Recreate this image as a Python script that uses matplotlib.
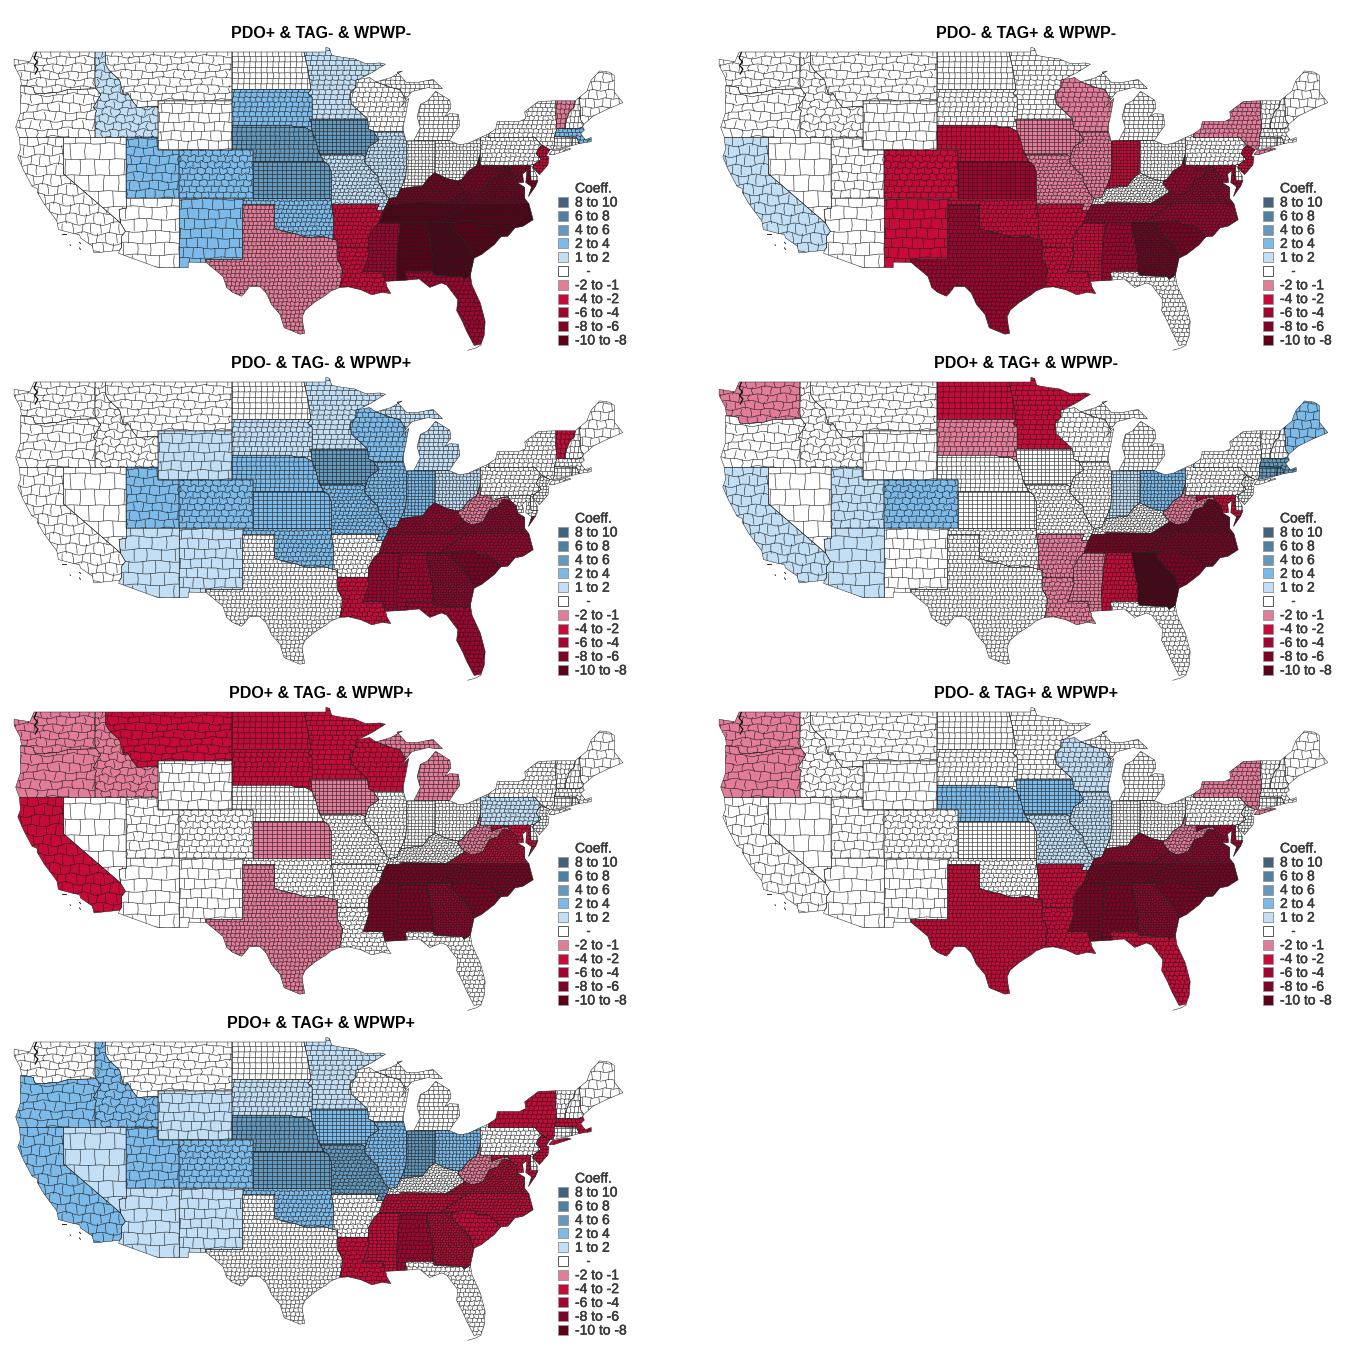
import numpy as np
import matplotlib
matplotlib.use("Agg")
import matplotlib.pyplot as plt
import matplotlib.patheffects as pe
from matplotlib.collections import LineCollection
from matplotlib.patches import PathPatch, Rectangle
from matplotlib.path import Path

plt.rcParams['font.family'] = ['Liberation Sans', 'DejaVu Sans']

W, H = 1349, 1355

# state outlines, lon/lat
states = {
    'WA': [[(-124.7,48.4),(-123.2,48.2),(-122.8,49),(-117.03,49),(-117.04,46.4),(-116.92,45.99),(-119,45.93),(-119.6,45.92),(-120.5,45.7),(-121.2,45.65),(-122.2,45.58),(-122.75,45.65),(-122.9,46.1),(-123.4,46.2),(-124,46.27),(-124.1,46.9),(-124.7,47.9)]],
    'OR': [[(-124,46.27),(-123.4,46.2),(-122.9,46.1),(-122.75,45.65),(-122.2,45.58),(-121.2,45.65),(-120.5,45.7),(-119.6,45.92),(-119,45.93),(-116.92,45.99),(-116.5,45.5),(-117.2,44.45),(-116.9,44.2),(-117.03,43.8),(-117.03,42),(-124.2,42),(-124.55,42.84),(-124.1,44),(-124.1,46.25)]],
    'ID': [[(-117.03,49),(-116.05,49),(-116.05,48),(-115.7,47.5),(-114.7,46.7),(-114.35,45.5),(-113.9,45.6),(-113.45,44.95),(-113,44.45),(-111.5,44.55),(-111.05,44.48),(-111.05,42),(-117.03,42),(-117.03,43.8),(-116.9,44.2),(-117.2,44.45),(-116.5,45.5),(-116.92,45.99),(-117.04,46.4)]],
    'MT': [[(-116.05,49),(-104.05,49),(-104.05,45),(-111.05,45),(-111.05,44.48),(-111.5,44.55),(-113,44.45),(-113.45,44.95),(-113.9,45.6),(-114.35,45.5),(-114.7,46.7),(-115.7,47.5),(-116.05,48)]],
    'WY': [[(-111.05,45),(-104.05,45),(-104.05,41),(-111.05,41)]],
    'ND': [[(-104.05,49),(-97.23,49),(-96.85,47.6),(-96.56,45.94),(-104.05,45.94)]],
    'SD': [[(-104.05,45.94),(-96.56,45.94),(-96.85,45.6),(-96.45,45.3),(-96.45,43.5),(-96.6,43.5),(-96.45,42.5),(-97.2,42.85),(-97.9,42.8),(-98.5,43),(-104.05,43)]],
    'NE': [[(-104.05,43),(-98.5,43),(-97.9,42.8),(-97.2,42.85),(-96.45,42.5),(-96.1,41.7),(-95.9,41),(-95.3,40),(-102.05,40),(-102.05,41),(-104.05,41)]],
    'KS': [[(-102.05,40),(-95.3,40),(-94.9,39.75),(-94.6,39.1),(-94.62,37),(-102.05,37)]],
    'MN': [[(-97.23,49),(-95.15,49),(-95.15,49.38),(-94.8,49.3),(-94.6,48.72),(-93.5,48.55),(-92.5,48.45),(-91.4,48.05),(-90,48.1),(-89.5,48),(-90.8,47.3),(-92.05,46.75),(-92.3,46.7),(-92.3,46.1),(-92.85,45.6),(-92.75,44.75),(-91.2,43.5),(-96.45,43.5),(-96.45,45.3),(-96.85,45.6),(-96.56,45.94),(-96.85,47.6)]],
    'IA': [[(-96.6,43.5),(-91.2,43.5),(-91.1,42.7),(-90.65,42.5),(-90.15,41.8),(-91.1,41.2),(-91.4,40.4),(-91.75,40.6),(-95.75,40.6),(-95.9,41),(-96.1,41.7),(-96.45,42.5)]],
    'MO': [[(-95.75,40.6),(-91.75,40.6),(-91.4,40.4),(-91.5,40),(-90.75,39.25),(-90.2,38.8),(-90.2,38.4),(-89.5,37.3),(-89.15,37),(-89.4,36.5),(-89.7,36),(-90.37,36),(-90.1,36.5),(-94.62,36.5),(-94.62,37),(-94.6,39.1),(-94.9,39.75),(-95.3,40)]],
    'OK': [[(-103,37),(-94.62,37),(-94.62,36.5),(-94.43,35.4),(-94.48,33.65),(-95.5,33.9),(-96.5,33.8),(-97.2,33.85),(-98,34.1),(-99.2,34.3),(-100,34.56),(-100,36.5),(-103,36.5)]],
    'TX': [[(-103.05,36.5),(-100,36.5),(-100,34.56),(-99.2,34.3),(-98,34.1),(-97.2,33.85),(-96.5,33.8),(-95.5,33.9),(-94.48,33.65),(-94.04,33.55),(-94.04,31.99),(-93.55,31.2),(-93.7,30.3),(-93.85,29.7),(-94.7,29.4),(-95.1,29.1),(-96.2,28.5),(-97.1,27.85),(-97.4,27.3),(-97.3,26.6),(-97.15,25.95),(-97.6,25.87),(-99.1,26.4),(-99.5,27.5),(-100.3,28.3),(-100.8,29.25),(-101.4,29.77),(-102.4,29.77),(-102.8,29.3),(-103.15,28.98),(-104,29.3),(-104.55,29.7),(-104.9,30.6),(-106.5,31.75),(-106.6,32),(-103.06,32)]],
    'NM': [[(-109.05,37),(-103,37),(-103,36.5),(-103.05,36.5),(-103.06,32),(-106.6,32),(-106.5,31.75),(-108.2,31.78),(-108.2,31.33),(-109.05,31.33)]],
    'AZ': [[(-114.05,37),(-109.05,37),(-109.05,31.33),(-111.07,31.33),(-114.8,32.5),(-114.7,32.75),(-114.5,33),(-114.5,33.9),(-114.15,34.3),(-114.63,35),(-114.75,36.1),(-114.05,36.2)]],
    'NV': [[(-120,42),(-114.05,42),(-114.05,36.2),(-114.75,36.1),(-114.63,35),(-120,39)]],
    'UT': [[(-114.05,42),(-111.05,42),(-111.05,41),(-109.05,41),(-109.05,37),(-114.05,37)]],
    'CO': [[(-109.05,41),(-102.05,41),(-102.05,37),(-109.05,37)]],
    'CA': [[(-124.2,42),(-120,42),(-120,39),(-114.63,35),(-114.15,34.3),(-114.5,33.9),(-114.5,33),(-114.7,32.75),(-117.12,32.53),(-117.3,33.1),(-118.4,33.75),(-118.5,34.03),(-119.2,34.15),(-120.5,34.45),(-120.65,35.15),(-121.9,36.6),(-122.5,37.5),(-122.5,37.8),(-123,38),(-123.8,39.3),(-124.35,40.4),(-124.1,41)]],
    'WI': [[(-92.3,46.7),(-92.05,46.75),(-91,46.9),(-90.4,46.55),(-89,46.1),(-88.1,45.9),(-87.6,45.1),(-88,44.55),(-87.3,45.2),(-87.55,44),(-87.8,43),(-87.8,42.5),(-90.65,42.5),(-91.1,42.7),(-91.2,43.5),(-92.75,44.75),(-92.85,45.6),(-92.3,46.1)]],
    'IL': [[(-90.65,42.5),(-87.8,42.5),(-87.53,41.7),(-87.53,39.35),(-87.6,38.7),(-88.05,37.8),(-88.45,37.1),(-89.15,37),(-89.5,37.3),(-90.2,38.4),(-90.2,38.8),(-90.75,39.25),(-91.5,40),(-91.4,40.4),(-91.1,41.2),(-90.15,41.8)]],
    'IN': [[(-87.53,41.7),(-87.2,41.75),(-86.8,41.76),(-84.8,41.76),(-84.82,39.1),(-85.4,38.7),(-86,38),(-86.8,37.95),(-88.05,37.8),(-87.6,38.7),(-87.53,39.35)]],
    'MI': [[(-86.8,41.76),(-84.8,41.76),(-83.45,41.73),(-83.1,42.2),(-82.45,43),(-82.6,43.9),(-83.4,43.95),(-83.9,43.7),(-83.3,44.4),(-83.4,45.05),(-84.75,45.78),(-85.5,45),(-86.2,44.7),(-86.5,43.7),(-86.2,42.8)],
           [(-90.4,46.55),(-89,46.1),(-88.1,45.9),(-87.6,45.1),(-87,45.75),(-85.5,46.08),(-84.7,46),(-84.1,46),(-85,46.75),(-86.5,46.5),(-87.5,46.5),(-88.4,47.35),(-87.9,47.45),(-89,46.9)]],
    'OH': [[(-84.8,41.76),(-83.45,41.73),(-82.5,41.4),(-81.7,41.5),(-80.52,41.98),(-80.52,40.64),(-80.85,39.7),(-81.7,39.2),(-82.2,38.6),(-82.6,38.42),(-83.7,38.63),(-84.82,39.1)]],
    'KY': [[(-89.4,36.5),(-88.05,36.5),(-88.05,36.65),(-83.68,36.6),(-81.97,37.54),(-82.6,38.17),(-82.6,38.42),(-83.7,38.63),(-84.82,39.1),(-85.4,38.7),(-86,38),(-86.8,37.95),(-88.05,37.8),(-88.45,37.1),(-89.15,37)]],
    'TN': [[(-90.1,35),(-84.32,35),(-83.1,35.75),(-81.68,36.59),(-83.68,36.6),(-88.05,36.65),(-88.05,36.5),(-89.4,36.5),(-89.7,36)]],
    'AR': [[(-94.62,36.5),(-90.1,36.5),(-90.37,36),(-89.7,36),(-90.1,35),(-90.6,34.6),(-91.1,33.8),(-91.15,33),(-94.04,33),(-94.04,33.55),(-94.48,33.65),(-94.43,35.4)]],
    'LA': [[(-94.04,33),(-91.15,33),(-91.05,32.5),(-91.6,31),(-89.75,31),(-89.55,30.2),(-89.4,30),(-89.4,29.8),(-89,29.2),(-89.8,29.3),(-90.8,29.1),(-91.8,29.5),(-93,29.75),(-93.85,29.7),(-93.7,30.3),(-93.55,31.2),(-94.04,31.99)]],
    'MS': [[(-91.15,33),(-91.1,33.8),(-90.6,34.6),(-90.1,35),(-88.2,35),(-88.1,34.9),(-88.47,31.9),(-88.4,30.25),(-89.55,30.2),(-89.75,31),(-91.6,31),(-91.05,32.5)]],
    'AL': [[(-88.2,35),(-85.6,35),(-85.18,32.87),(-85,32.3),(-85,31),(-87.6,31),(-87.5,30.3),(-88.4,30.25),(-88.47,31.9),(-88.1,34.9)]],
    'GA': [[(-85.6,35),(-83.1,35),(-83.35,34.7),(-81.9,33.4),(-81.5,33),(-81.1,32.1),(-81.45,30.72),(-82.05,30.36),(-82.2,30.57),(-84.86,30.7),(-85,31),(-85,32.3),(-85.18,32.87)]],
    'FL': [[(-87.6,31),(-85,31),(-84.86,30.7),(-82.2,30.57),(-82.05,30.36),(-81.45,30.72),(-81.3,29.9),(-80.5,28.4),(-80.05,26.9),(-80.15,25.75),(-80.45,25.05),(-81.1,24.95),(-81.8,26.1),(-82.2,26.9),(-82.75,27.8),(-82.65,28.7),(-83.7,29.9),(-84.2,30.07),(-85.3,29.7),(-86.3,30.4),(-87.5,30.3)]],
    'SC': [[(-83.35,34.7),(-83.1,35),(-82.3,35.2),(-81,35.15),(-80.8,34.82),(-79.67,34.8),(-78.55,33.86),(-79.2,33.2),(-80.4,32.4),(-81.1,32.1),(-81.5,33),(-81.9,33.4)]],
    'NC': [[(-84.32,35),(-83.1,35),(-82.3,35.2),(-81,35.15),(-80.8,34.82),(-79.67,34.8),(-78.55,33.86),(-77.9,33.9),(-77.2,34.6),(-76.5,34.7),(-75.5,35.25),(-75.9,36.55),(-81.68,36.59),(-83.1,35.75)]],
    'VA': [[(-83.68,36.6),(-81.68,36.59),(-75.9,36.55),(-76.3,37),(-76.3,37.9),(-77,38.3),(-77.1,38.85),(-77.7,39.3),(-78.35,39.4),(-78.85,38.75),(-79.65,38.55),(-80.3,37.5),(-81.3,37.3),(-81.97,37.54)],
           [(-75.95,37.15),(-75.65,37.95),(-75.25,38.03)]],
    'WV': [[(-81.97,37.54),(-81.3,37.3),(-80.3,37.5),(-79.65,38.55),(-78.85,38.75),(-78.35,39.4),(-77.7,39.3),(-77.85,39.6),(-78.45,39.55),(-79.48,39.2),(-79.48,39.72),(-80.52,39.72),(-80.52,40.64),(-80.85,39.7),(-81.7,39.2),(-82.2,38.6),(-82.6,38.42),(-82.6,38.17)]],
    'MD': [[(-79.48,39.72),(-75.79,39.72),(-75.7,38.46),(-75.05,38.45),(-75.25,38.03),(-75.65,37.95),(-76.2,38.3),(-76.1,39.3),(-76.5,39),(-76.4,38.3),(-77,38.3),(-77.1,38.85),(-77.7,39.3),(-77.85,39.6),(-78.45,39.55),(-79.48,39.2)]],
    'DE': [[(-75.79,39.72),(-75.4,39.8),(-75.55,39.5),(-75.1,38.8),(-75.05,38.45),(-75.7,38.46)]],
    'PA': [[(-80.52,41.98),(-79.76,42.27),(-79.76,42),(-75.35,42),(-74.7,41.36),(-75.1,40.95),(-75.2,40.65),(-74.75,40.2),(-75.4,39.8),(-75.79,39.72),(-80.52,39.72)]],
    'NJ': [[(-74.7,41.36),(-73.9,41),(-74.25,40.5),(-74,40.4),(-74.1,39.75),(-74.9,38.95),(-75.55,39.5),(-75.4,39.8),(-74.75,40.2),(-75.2,40.65),(-75.1,40.95)]],
    'NY': [[(-79.76,42.27),(-79.05,42.7),(-78.9,43.3),(-76.8,43.3),(-76.2,43.55),(-76.3,44.1),(-75,44.95),(-73.35,45),(-73.35,43.6),(-73.25,42.75),(-73.5,42.05),(-73.5,41.3),(-73.65,41),(-73.9,41),(-74.7,41.36),(-75.35,42),(-79.76,42)],
           [(-74,40.6),(-73.7,40.9),(-72.3,41.15),(-71.9,41.05),(-73.5,40.6)]],
    'CT': [[(-73.5,42.05),(-71.8,42.02),(-71.85,41.32),(-73.65,41),(-73.5,41.3)]],
    'RI': [[(-71.8,42.02),(-71.38,42.02),(-71.15,41.5),(-71.85,41.32)]],
    'MA': [[(-73.5,42.05),(-73.25,42.75),(-71.3,42.7),(-70.8,42.87),(-70.65,42.6),(-71,42.3),(-70.55,41.8),(-70,42),(-70,41.65),(-71.15,41.5),(-71.38,42.02),(-71.8,42.02)]],
    'VT': [[(-73.35,45),(-71.5,45),(-71.6,44.5),(-72.05,44.1),(-72.4,43.3),(-72.46,42.73),(-73.25,42.75),(-73.35,43.6)]],
    'NH': [[(-71.5,45),(-71.1,45.3),(-70.98,43.4),(-70.7,43.07),(-70.8,42.87),(-71.3,42.7),(-72.46,42.73),(-72.4,43.3),(-72.05,44.1),(-71.6,44.5)]],
    'ME': [[(-71.1,45.3),(-70.4,45.8),(-70.25,46.2),(-70,46.7),(-69.2,47.45),(-68.3,47.35),(-67.8,47.07),(-67.8,45.7),(-67,44.85),(-68.5,44.3),(-69.8,43.75),(-70.7,43.07),(-70.98,43.4)]],
}

# rough county size per state: dx, dy, wobble
county_size = {
    'WA':(.9,.6,.1),'OR':(1,.7,.12),'CA':(.9,.8,.12),'NV':(1.4,1.3,.06),'ID':(.8,.6,.12),'MT':(1,.6,.1),
    'WY':(.95,.75,.05),'UT':(.9,.7,.08),'CO':(.7,.5,.08),'AZ':(1.3,1,.08),'NM':(1,.8,.06),'ND':(.55,.45,.01),
    'SD':(.55,.4,.03),'NE':(.45,.35,.01),'KS':(.45,.33,.0),'OK':(.45,.35,.05),'TX':(.4,.33,.03),'MN':(.6,.4,.03),
    'IA':(.4,.3,0),'MO':(.42,.3,.05),'AR':(.45,.35,.05),'LA':(.5,.35,.06),'WI':(.55,.4,.04),'IL':(.4,.3,.03),
    'IN':(.33,.26,.01),'MI':(.45,.33,.02),'OH':(.33,.28,.02),'KY':(.3,.22,.05),'TN':(.33,.25,.05),'MS':(.4,.28,.02),
    'AL':(.4,.35,.04),'GA':(.25,.2,.04),'FL':(.45,.35,.05),'SC':(.42,.35,.05),'NC':(.33,.25,.05),'VA':(.25,.2,.05),
    'WV':(.35,.28,.06),'MD':(.35,.3,.04),'DE':(.3,.4,0),'PA':(.45,.33,.04),'NJ':(.3,.25,.03),'NY':(.45,.35,.04),
    'CT':(.4,.3,.01),'RI':(.3,.3,0),'MA':(.4,.3,.03),'VT':(.4,.4,.03),'NH':(.4,.5,.03),'ME':(.8,.7,.06),
}

legend_labels = ['8 to 10','6 to 8','4 to 6','2 to 4','1 to 2','-','-2 to -1','-4 to -2','-6 to -4','-8 to -6','-10 to -8']
legend_colors = ['#43627e','#4f7fa3','#6499bd','#7cbaea','#c2dff5','#ffffff','#e37c98','#c70a38','#a00530','#7d0424','#5c0218']

titles = ['PDO+ & TAG- & WPWP-','PDO- & TAG+ & WPWP-','PDO- & TAG- & WPWP+','PDO+ & TAG+ & WPWP-',
          'PDO+ & TAG- & WPWP+','PDO- & TAG+ & WPWP+','PDO+ & TAG+ & WPWP+']

# legend label per state, anything missing is '-'
panel1 = {'MN':'1 to 2','ID':'1 to 2','MO':'1 to 2','IL':'1 to 2','SD':'2 to 4','OK':'2 to 4','CO':'2 to 4','UT':'2 to 4','NM':'2 to 4','MA':'2 to 4',
          'NE':'4 to 6','KS':'4 to 6','IA':'4 to 6','TX':'-2 to -1','VT':'-2 to -1','AR':'-4 to -2','LA':'-4 to -2','NJ':'-4 to -2',
          'MS':'-6 to -4','FL':'-6 to -4','KY':'-8 to -6','WV':'-8 to -6','VA':'-8 to -6','MD':'-8 to -6',
          'TN':'-10 to -8','AL':'-10 to -8','GA':'-10 to -8','SC':'-10 to -8','NC':'-10 to -8'}
panel2 = {'CA':'1 to 2','WI':'-2 to -1','IL':'-2 to -1','IA':'-2 to -1','MO':'-2 to -1','NY':'-2 to -1',
          'CO':'-4 to -2','NM':'-4 to -2','NE':'-4 to -2','OK':'-4 to -2','AR':'-4 to -2','LA':'-4 to -2','MS':'-4 to -2','IN':'-4 to -2','NJ':'-4 to -2',
          'KS':'-6 to -4','TX':'-6 to -4','AL':'-6 to -4','NC':'-6 to -4','TN':'-6 to -4','VA':'-6 to -4','WV':'-6 to -4','MD':'-6 to -4',
          'GA':'-8 to -6','SC':'-8 to -6'}
panel3 = {'MN':'1 to 2','SD':'1 to 2','WY':'1 to 2','MI':'1 to 2','OH':'1 to 2','AZ':'1 to 2','NM':'1 to 2',
          'UT':'2 to 4','CO':'2 to 4','NE':'2 to 4','KS':'2 to 4','MO':'2 to 4','IL':'2 to 4','WI':'2 to 4','IN':'2 to 4','OK':'2 to 4','IA':'4 to 6',
          'WV':'-2 to -1','LA':'-4 to -2','VT':'-4 to -2','MS':'-6 to -4','AL':'-6 to -4','GA':'-6 to -4','FL':'-6 to -4','NC':'-6 to -4',
          'TN':'-6 to -4','KY':'-6 to -4','VA':'-6 to -4','SC':'-8 to -6'}
panel4 = {'CA':'1 to 2','UT':'1 to 2','AZ':'1 to 2','IN':'1 to 2','CO':'2 to 4','OH':'2 to 4','ME':'2 to 4','MA':'4 to 6','CT':'4 to 6','RI':'4 to 6',
          'WA':'-2 to -1','SD':'-2 to -1','WV':'-2 to -1','MS':'-2 to -1','AR':'-2 to -1','LA':'-2 to -1',
          'ND':'-4 to -2','MN':'-4 to -2','MD':'-4 to -2','AL':'-4 to -2',
          'VA':'-8 to -6','NC':'-8 to -6','SC':'-8 to -6','TN':'-8 to -6','GA':'-10 to -8'}
panel5 = {'PA':'1 to 2','WA':'-2 to -1','OR':'-2 to -1','ID':'-2 to -1','MI':'-2 to -1','IA':'-2 to -1','KS':'-2 to -1','TX':'-2 to -1','WV':'-2 to -1',
          'MT':'-4 to -2','ND':'-4 to -2','SD':'-4 to -2','MN':'-4 to -2','WI':'-4 to -2','CA':'-4 to -2','MD':'-4 to -2','VA':'-4 to -2',
          'GA':'-6 to -4','NC':'-8 to -6','TN':'-8 to -6','MS':'-8 to -6','AL':'-8 to -6','SC':'-8 to -6'}
panel6 = {'WI':'1 to 2','IL':'1 to 2','MO':'1 to 2','NE':'2 to 4','IA':'2 to 4','WA':'-2 to -1','OR':'-2 to -1','NY':'-2 to -1','WV':'-2 to -1',
          'TX':'-4 to -2','AR':'-4 to -2','LA':'-4 to -2','FL':'-4 to -2','GA':'-6 to -4','VA':'-6 to -4','KY':'-6 to -4','MD':'-6 to -4',
          'MS':'-8 to -6','AL':'-8 to -6','TN':'-8 to -6','SC':'-8 to -6','NC':'-8 to -6'}
panel7 = {'NV':'1 to 2','WY':'1 to 2','AZ':'1 to 2','NM':'1 to 2','SD':'1 to 2','MN':'1 to 2',
          'OR':'2 to 4','ID':'2 to 4','CA':'2 to 4','UT':'2 to 4','CO':'2 to 4','IA':'2 to 4','IL':'2 to 4','OH':'2 to 4','OK':'2 to 4',
          'NE':'4 to 6','KS':'4 to 6','MO':'4 to 6','IN':'4 to 6','WV':'-2 to -1',
          'LA':'-4 to -2','MS':'-4 to -2','GA':'-4 to -2','TN':'-4 to -2','VA':'-4 to -2','NC':'-4 to -2','SC':'-4 to -2','MD':'-4 to -2','NJ':'-4 to -2','NY':'-4 to -2','MA':'-4 to -2',
          'AL':'-6 to -4'}
panels = [panel1, panel2, panel3, panel4, panel5, panel6, panel7]

# small bits drawn on every map
puget = [(-122.6,48.95),(-122.8,48.5),(-122.5,48.2),(-122.75,47.9),(-122.45,47.6),(-122.7,47.2)]
islands = [[(-120.2,34.05),(-119.8,34.05)],[(-119.4,33.2),(-119.35,33.15)],[(-118.5,33.4),(-118.4,33.3)],[(-118.5,32.95),(-118.42,32.82)]]
keys = [(-80.4,25.0),(-80.9,24.75),(-81.7,24.55)]

color_of = dict(zip(legend_labels, legend_colors))


def county_lines(name):
    # grid of county edges for one state, shifted row by row so it looks less regular
    dx, dy, wob = county_size[name]
    pts = np.array([p for poly in states[name] for p in poly])
    x0, y0 = pts.min(axis=0)
    x1, y1 = pts.max(axis=0)
    lines = []
    nrows = int((y1 - y0) / dy) + 2
    for j in range(nrows):
        y = y0 + j * dy
        xs = np.arange(x0, x1 + dx, dx / 2)
        ys = y + wob * np.sin(xs * 11.3 + j * 1.7) + wob * .5 * np.sin(xs * 29 + j)
        lines.append(np.column_stack((xs, ys)))
        shift = ((j * .37) % 1) * min(1, wob * 16) * dx
        for i in range(int((x1 - x0) / dx) + 2):
            x = x0 + i * dx + shift
            yy = np.linspace(y, y + dy, 3)
            xx = x + wob * .7 * np.sin(yy * 13 + i * 2.1) + wob * .4 * np.sin(yy * 31 + i)
            lines.append(np.column_stack((xx, yy)))
    return lines


def state_path(name):
    return Path.make_compound_path(*[Path(np.array(p + [p[0]]), closed=True) for p in states[name]])


paths = {s: state_path(s) for s in states}
grids = {s: county_lines(s) for s in states}


def lon_of(px):
    return -114 + (px - 127) / 10.55


def lat_of(py):
    return 49 - (py - 52) / 12.2


fig = plt.figure(figsize=(W / 100, H / 100), dpi=100)
line_col = '#1c1c1c'

for n, panel in enumerate(panels):
    col, row = n % 2, n // 2
    ox, oy = 705 * col, 330 * row
    ax = fig.add_axes([ox / W, 1 - (oy + 360) / H, 640 / W, 320 / H])
    ax.set_xlim(lon_of(0), lon_of(640))
    ax.set_ylim(lat_of(360), lat_of(40))
    ax.axis('off')
    for s in states:
        fc = color_of[panel.get(s, '-')]
        patch = PathPatch(paths[s], fc=fc, ec='none', zorder=1)
        ax.add_patch(patch)
        lc = LineCollection(grids[s], colors=line_col, linewidths=.4, zorder=2)
        ax.add_collection(lc, autolim=False)
        lc.set_clip_path(patch)
        ax.add_patch(PathPatch(paths[s], fc='none', ec=line_col, lw=.35, zorder=3))
    ax.plot(*zip(*puget), color='black', lw=.9, zorder=4)
    ax.plot(*zip(*keys), color='#333333', lw=.4, zorder=4)
    for isl in islands:
        ax.plot(*zip(*isl), color='black', lw=.6, zorder=4)

# titles and legends go on one overlay in pixel coords
ov = fig.add_axes([0, 0, 1, 1], facecolor='none')
ov.set_xlim(0, W)
ov.set_ylim(H, 0)
ov.axis('off')
heavy = [pe.withStroke(linewidth=.35, foreground='#3a3a3a')]
for n, title in enumerate(titles):
    col, row = n % 2, n // 2
    ox, oy = 705 * col, 330 * row
    ov.text(321 + ox, 33.5 + oy, title, ha='center', va='center', fontsize=11.5, fontweight='bold', color='black')
    ov.text(575 + ox, 188.5 + oy, 'Coeff.', ha='left', va='center', fontsize=10, color='#3a3a3a', path_effects=heavy)
    for i, (lab, c) in enumerate(zip(legend_labels, legend_colors)):
        y = 202 + oy + i * 13.8
        ec = '#555555' if lab == '-' else '#9a9a9a'
        ov.add_patch(Rectangle((558 + ox, y - 5), 10, 10, fc=c, ec=ec, lw=.7))
        tx = 586 if lab == '-' else 575
        ov.text(tx + ox, y + .5, lab, ha='left', va='center', fontsize=10, color='#3a3a3a', path_effects=heavy)

fig.savefig('out.png', dpi=100)
